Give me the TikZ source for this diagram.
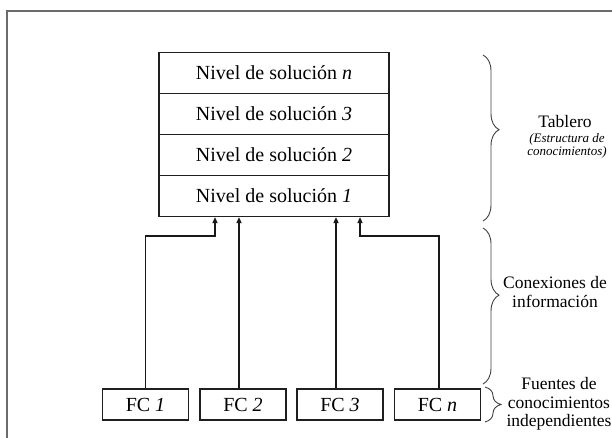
\documentclass[tikz,border=0pt]{standalone}
\usepackage{fontspec}
\setmainfont{Liberation Serif}
\usetikzlibrary{arrows.meta,decorations.pathreplacing,calc}
\begin{document}
\begin{tikzpicture}[x=1pt,y=-1pt,
  level/.style={draw=black!88,line width=1.2pt,minimum width=230pt,minimum height=41pt,
    inner sep=0pt,font=\fontsize{20}{24}\selectfont},
  src/.style={draw=black!88,line width=1.2pt,minimum width=86pt,minimum height=31pt,
    inner sep=0pt,font=\fontsize{20}{24}\selectfont},
  link/.style={draw=black!90,line width=1.3pt,-{Triangle[length=6pt,width=5pt]}},
  heavylink/.style={link,line width=1.8pt},
  curly/.style={draw=black!75,line width=0.9pt,decorate,
    decoration={brace,amplitude=16pt,aspect=#1}},
  curly/.default=0.5,
  lbl/.style={inner sep=0pt,align=center,font=\fontsize{17.5}{18.5}\selectfont},
  sublbl/.style={inner sep=0pt,align=center,font=\fontsize{13}{13.5}\selectfont\itshape},
  frame/.style={draw=black!58,line width=1.5pt}
]
\useasboundingbox (0,0) rectangle (612,438);
\begin{scope}
  \clip (0,0) rectangle (612,438);
  \draw[frame] (7,11) rectangle (650,470);
\end{scope}

% blackboard: stacked solution levels
\node[level] (sn) at (274,73)  {Nivel de solución \textit{n}};
\node[level] (s3) at (274,114) {Nivel de solución \textit{3}};
\node[level] (s2) at (274,155) {Nivel de solución \textit{2}};
\node[level] (s1) at (274,196) {Nivel de solución \textit{1}};

% independent knowledge sources
\node[src] (fc1) at (145.5,404.5) {FC \textit{1}};
\node[src] (fc2) at (243,404.5)   {FC \textit{2}};
\node[src] (fc3) at (340,404.5)   {FC \textit{3}};
\node[src] (fcn) at (437.5,404.5) {FC \textit{n}};

% information links
\coordinate (e1) at (215,236);
\coordinate (en) at (360,236);
\draw[link] (fc1.north) |- (e1) -- (e1 |- s1.south);
\draw[heavylink] ([xshift=-4pt]fc2.north) -- ([xshift=-4pt]fc2.north |- s1.south);
\draw[heavylink] ([xshift=-4pt]fc3.north) -- ([xshift=-4pt]fc3.north |- s1.south);
\draw[link] ([xshift=1.5pt]fcn.north) |- (en) -- (en |- s1.south);

% braces and their labels
\draw[curly=0.45] (483,55) -- (483,221);
\draw[curly=0.43] (483,228) -- (483,384);
\draw[curly] (485,387) -- (485,422);

\node[lbl] (tab) at (565,122) {Tablero};
\node[sublbl] (tabsub) at (567,146) {(Estructura de\\conocimientos)};
\node[lbl] (con) at (555,292) {Conexiones de\\información};
\node[lbl] (fue) at (559,404) {Fuentes de\\conocimientos\\independientes};
\end{tikzpicture}
\end{document}
